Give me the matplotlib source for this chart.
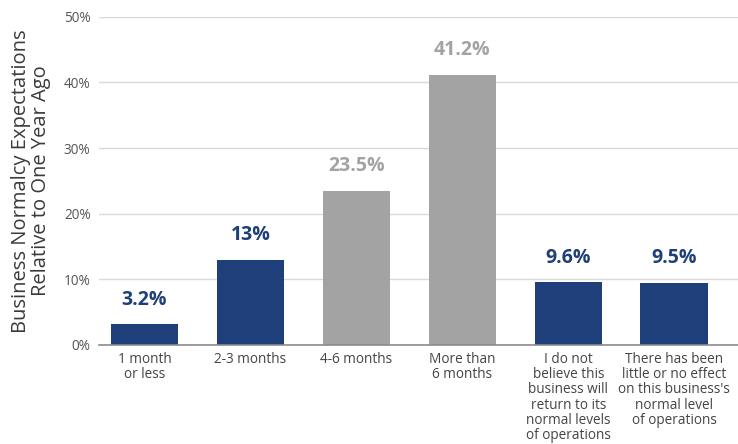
import matplotlib
matplotlib.use("Agg")
import matplotlib.pyplot as plt
from matplotlib.ticker import PercentFormatter

# survey answers and shares
categories = ["1 month\nor less", "2-3 months", "4-6 months", "More than\n6 months",
              "I do not\nbelieve this\nbusiness will\nreturn to its\nnormal levels\nof operations",
              "There has been\nlittle or no effect\non this business's\nnormal level\nof operations"]
values = [3.2, 13, 23.5, 41.2, 9.6, 9.5]
value_labels = ["3.2%", "13%", "23.5%", "41.2%", "9.6%", "9.5%"]
highlight = [False, False, True, True, False, False]

blue = "#1f3f7a"
grey = "#a3a3a3"

plt.rcParams['font.family'] = ['Open Sans', 'DejaVu Sans']

fig = plt.figure(figsize=(7.38, 4.44), dpi=100)
ax = fig.add_axes([0.134, 0.223, 0.866, 0.739])

colors = [grey if h else blue for h in highlight]
x = range(len(categories))
bars = ax.bar(x, values, width=0.64, color=colors, zorder=3)

for b, v, lab, c in zip(bars, values, value_labels, colors):
    ax.text(b.get_x() + b.get_width() / 2, v + 2.2, lab, ha="center", va="bottom",
            fontsize=14, fontweight="bold", color=c)

ax.set_ylim(0, 50)
ax.set_xlim(-0.43, 5.6)
ax.set_yticks(range(0, 51, 10))
ax.yaxis.set_major_formatter(PercentFormatter(decimals=0))
ax.grid(axis="y", color="#d9d9d9", linewidth=1, zorder=0)
ax.set_xticks(list(x))
ax.set_xticklabels(categories, fontsize=9.8, color="#444444", linespacing=1.02, va="top")
ax.tick_params(axis="x", length=0, pad=5)
ax.tick_params(axis="y", length=0, pad=6, labelsize=9.8, labelcolor="#555555")

for s in ["top", "right", "left"]:
    ax.spines[s].set_visible(False)
ax.spines["bottom"].set_color("#8c8c8c")
ax.spines["bottom"].set_linewidth(1.2)
ax.spines["bottom"].set_zorder(4)

ax.set_ylabel("Business Normalcy Expectations\nRelative to One Year Ago", fontsize=14.5,
              color="#3a3a3a", linespacing=1.0, labelpad=9)

fig.savefig("out.png", dpi=100)
